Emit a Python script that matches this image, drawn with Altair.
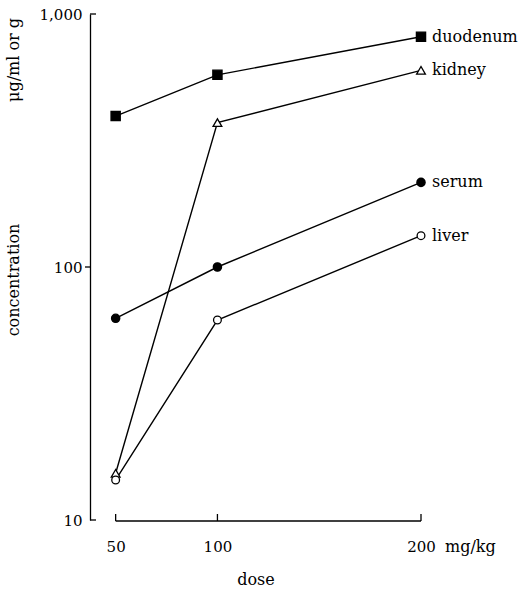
import altair as alt
import pandas as pd

doses = [50, 100, 200]
series = ["duodenum", "kidney", "serum", "liver"]
duodenum = [395, 575, 813]
kidney = [15.3, 372, 599]
serum = [62.7, 100, 216]
liver = [14.4, 61.7, 133]
y_ticks = [10, 100, 1000]

values = {"duodenum": duodenum, "kidney": kidney, "serum": serum, "liver": liver}
rows = []
for s in series:
    for d, v in zip(doses, values[s]):
        rows.append({"series": s, "dose": d, "conc": v})
df = pd.DataFrame(rows)

W, H = 331, 506
FONT = "DejaVu Serif"

xscale = alt.Scale(domain=[37.4, 200], nice=False, zero=False)
yscale = alt.Scale(type="log", domain=[10, 1000], nice=False)

xenc = alt.X("dose:Q", scale=xscale,
             axis=alt.Axis(values=doses, domain=False, ticks=False, grid=False,
                           labelPadding=19, labelFontSize=15, labelFont=FONT,
                           labelFlush=False, labelColor="black", title="dose",
                           titleFont=FONT, titleFontSize=16, titleFontWeight="normal",
                           titlePadding=17, titleColor="black"))
yenc = alt.Y("conc:Q", scale=yscale,
             axis=alt.Axis(values=y_ticks, format=",", domain=True, domainColor="black",
                           domainWidth=1.3, ticks=False, grid=False, labelPadding=8,
                           labelFlush=False, labelFontSize=15, labelFont=FONT,
                           labelColor="black", title=None))

base = alt.Chart(df)

lines = base.mark_line(color="black", strokeWidth=1.4).encode(
    x=xenc, y=yenc, detail="series:N")

points = base.mark_point(filled=True, stroke="black", strokeWidth=1.3, opacity=1).encode(
    x="dose:Q", y="conc:Q",
    shape=alt.Shape("series:N", scale=alt.Scale(domain=series,
                    range=["square", "triangle-up", "circle", "circle"]), legend=None),
    fill=alt.Fill("series:N", scale=alt.Scale(domain=series,
                  range=["black", "white", "black", "white"]), legend=None),
    size=alt.Size("series:N", scale=alt.Scale(domain=series,
                  range=[85, 60, 165, 165]), legend=None),
)

labels = base.transform_filter(alt.datum.dose == 200).mark_text(
    align="left", baseline="middle", dx=11, font=FONT, fontSize=16, color="black"
).encode(x="dose:Q", y="conc:Q", text="series:N")

# x axis line and upward ticks
xline_df = pd.DataFrame({"x": [doses[0]], "x2": [doses[-1]]})
xline = alt.Chart(xline_df).mark_rule(color="black", strokeWidth=1.3).encode(
    x="x:Q", x2="x2:Q", y=alt.value(H + 1))
xt_df = pd.DataFrame({"dose": doses})
xticks = alt.Chart(xt_df).mark_rule(color="black", strokeWidth=1.3).encode(
    x="dose:Q", y=alt.value(H + 1), y2=alt.value(H - 6))

# y ticks
yticks = alt.layer(*[
    alt.Chart(pd.DataFrame({"conc": [t]})).mark_rule(color="black", strokeWidth=1.3).encode(
        y="conc:Q", x=alt.value(a), x2=alt.value(b))
    for t, a, b in zip(y_ticks, [0, -5, 0], [6, 0, 6])
])

unit_df = pd.DataFrame({"dose": [200], "t": ["mg/kg"]})
unit = alt.Chart(unit_df).mark_text(align="left", baseline="middle", dx=24,
                                    font=FONT, fontSize=16, color="black").encode(
    x="dose:Q", y=alt.value(H + 27), text="t:N")

t1 = alt.Chart(pd.DataFrame({"t": ["concentration"]})).mark_text(
    angle=270, font=FONT, fontSize=16, color="black", baseline="middle", align="center").encode(
    x=alt.value(-76), y=alt.value(266), text="t:N")
t2 = alt.Chart(pd.DataFrame({"t": ["μg/ml or g"]})).mark_text(
    angle=270, font=FONT, fontSize=16, color="black", baseline="middle", align="center").encode(
    x=alt.value(-76), y=alt.value(46), text="t:N")

chart = alt.layer(lines, xline, xticks, yticks, points, labels, unit, t1, t2).properties(
    width=W, height=H,
    background="white",
    autosize=alt.AutoSizeParams(type="none"),
    padding={"left": 90, "top": 14, "right": 97, "bottom": 72},
).configure_view(strokeWidth=0, stroke=None)

chart.save("out.html", embed_options={"renderer": "svg", "actions": False})
